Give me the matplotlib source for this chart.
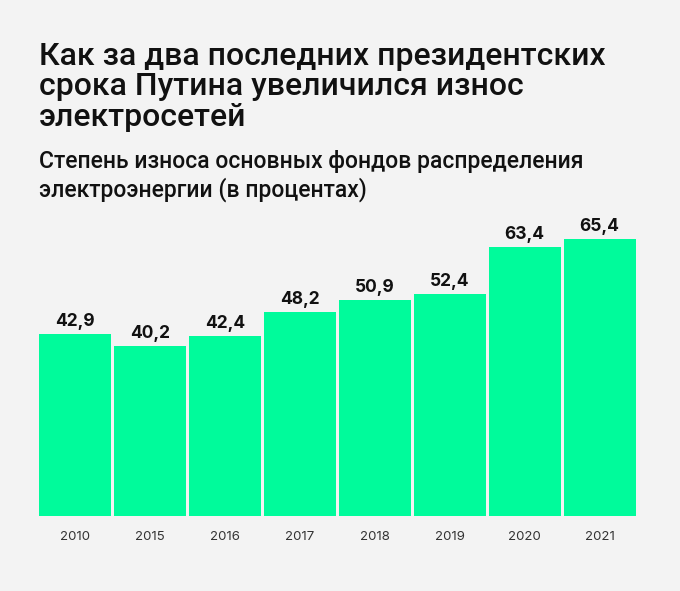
import matplotlib
matplotlib.use("Agg")
import matplotlib.pyplot as plt

years = ["2010", "2015", "2016", "2017", "2018", "2019", "2020", "2021"]
wear = [42.9, 40.2, 42.4, 48.2, 50.9, 52.4, 63.4, 65.4]
labels = ["42,9", "40,2", "42,4", "48,2", "50,9", "52,4", "63,4", "65,4"]

BG = "#f3f3f3"
GREEN = "#00fb9b"

plt.rcParams["font.family"] = ["Inter", "DejaVu Sans"]

W, H = 680, 591
fig = plt.figure(figsize=(W / 100, H / 100), dpi=100, facecolor=BG)

# axes in pixel coords: bars from x=38 to 637, baseline at y=516
left, right, bottom, top = 38, 637, 516, 200
ax = fig.add_axes([left / W, 1 - bottom / H, (right - left) / W, (bottom - top) / H])
ax.set_facecolor(BG)

x = range(len(years))
ax.bar(x, wear, width=0.96, color=GREEN)
ax.set_xlim(-0.5, len(years) - 0.5)
ax.set_ylim(0, (bottom - top) / ((bottom - 239) / 65.4))

for xi, v, lab in zip(x, wear, labels):
    ax.annotate(lab, (xi, v), xytext=(0, 3), textcoords="offset points",
                ha="center", va="bottom", fontsize=12.5, fontweight="bold",
                color="#111111")

ax.set_xticks(list(x))
ax.set_xticklabels(years, fontsize=9.5, color="#333333")
ax.tick_params(axis="x", length=0, pad=11)
ax.set_yticks([])
for s in ax.spines.values():
    s.set_visible(False)

fig.text(39 / W, 1 - 42 / H,
         "Как за два последних президентских\nсрока Путина увеличился износ\nэлектросетей",
         ha="left", va="top", fontsize=23, fontweight="medium",
         family=["Roboto", "DejaVu Sans"], color="#111111", linespacing=1.06)
fig.text(39 / W, 1 - 150 / H,
         "Степень износа основных фондов распределения\nэлектроэнергии (в процентах)",
         ha="left", va="top", fontsize=16.5, fontweight="medium",
         family=["Roboto", "DejaVu Sans"], color="#111111", linespacing=1.2)

fig.savefig("out.png", dpi=100, facecolor=BG)
